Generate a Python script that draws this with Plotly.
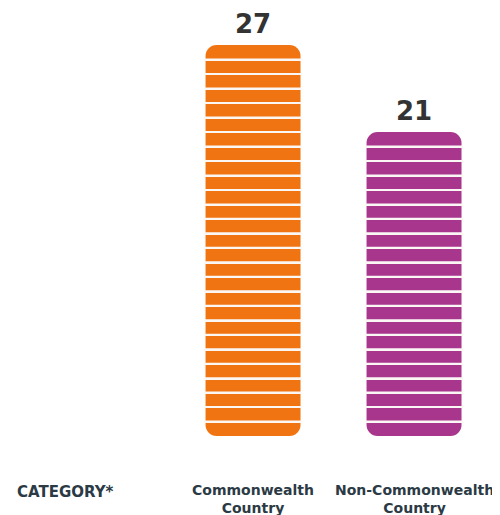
import plotly.graph_objects as go

categories = ["Commonwealth<br>Country", "Non-Commonwealth<br>Country"]
values = [27, 21]
axis_title = "CATEGORY*"

bar_colors = ["#F07512", "#A8368C"]
bar_width = 0.59
radius = 11
gap = 0.13  # stripe thickness in value units
label_font = "DejaVu Sans"

fig = go.Figure()
for i, (cat, v) in enumerate(zip(categories, values)):
    col = bar_colors[i]
    # full bar, rounded at both ends
    fig.add_trace(go.Bar(x=[i], y=[v], base=[0], width=bar_width,
                         marker=dict(color=col, cornerradius=radius, line=dict(width=0)),
                         hoverinfo="skip", showlegend=False))
    # white stripes between unit segments
    ks = list(range(1, v))
    fig.add_trace(go.Bar(x=[i] * len(ks), y=[gap] * len(ks),
                         base=[k - gap / 2 for k in ks], width=bar_width + 0.02,
                         marker=dict(color="rgba(250,247,245,1)", line=dict(width=0)),
                         hoverinfo="skip", showlegend=False))
    # value label
    fig.add_annotation(x=i, y=v, xref="x", yref="y", text=f"<b>{v}</b>",
                       showarrow=False, yanchor="middle", yshift=21,
                       font=dict(family=label_font, size=26, color="#333333"))
    # category label
    fig.add_annotation(x=i, y=0, xref="x", yref="paper", text=f"<b>{cat}</b>",
                       showarrow=False, yanchor="middle", yshift=-63,
                       font=dict(family=label_font, size=14, color="#2B3A44"))

fig.add_annotation(x=0.0142, y=0, xref="paper", yref="paper", text=f"<b>{axis_title}</b>",
                   showarrow=False, xanchor="left", yanchor="middle", yshift=-56,
                   font=dict(family=label_font, size=15, color="#2B3A44"))

fig.update_layout(
    width=492, height=507, autosize=False,
    margin=dict(l=0, r=0, t=0, b=79),
    barmode="overlay",
    plot_bgcolor="white", paper_bgcolor="white",
    xaxis=dict(range=[-1.522, 1.534], visible=False, fixedrange=True),
    yaxis=dict(range=[0, 29.56], visible=False, fixedrange=True),
)

fig.write_html("out.html")
